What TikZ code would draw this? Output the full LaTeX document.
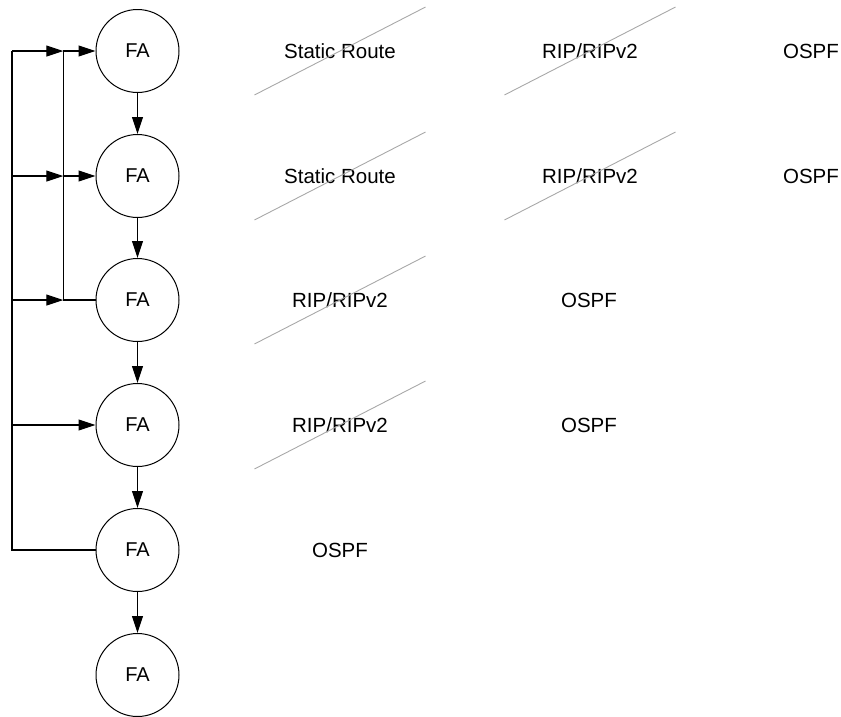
\documentclass[tikz,border=0pt]{standalone}
\usepackage{fontspec}
\setmainfont{Liberation Sans}
\usetikzlibrary{arrows.meta,positioning,shapes.misc}
\definecolor{StrikeGray}{HTML}{A8A8A8}

\begin{document}
\begin{tikzpicture}[
    x=1pt, y=-1pt,
    fa/.style={
      circle,
      draw=black,
      line width=1pt,
      minimum size=83pt,
      inner sep=0pt,
      font=\fontsize{20}{24}\selectfont
    },
    proto/.style={
      font=\fontsize{20.5}{24}\selectfont,
      inner sep=0pt
    },
    off/.style={
      proto,
      strike out,
      draw=StrikeGray,
      line width=0.9pt,
      text=black,
      minimum width=170pt,
      minimum height=87pt
    },
    link/.style={line width=1.1pt},
    arr/.style={link,-{Triangle[length=17pt,width=11pt]}}
  ]
  \useasboundingbox (0,0) rectangle (841,716);

  % Automata chain
  \node[fa] (fa1) at (137.5,51)  {FA};
  \node[fa] (fa2) at (137.5,176) {FA};
  \node[fa] (fa3) at (137.5,300) {FA};
  \node[fa] (fa4) at (137.5,425) {FA};
  \node[fa] (fa5) at (137.5,550) {FA};
  \node[fa] (fa6) at (137.5,675) {FA};

  \draw[arr] (fa1) -- (fa2);
  \draw[arr] (fa2) -- (fa3);
  \draw[arr] (fa3) -- (fa4);
  \draw[arr] (fa4) -- (fa5);
  \draw[arr] (fa5) -- (fa6);

  % Feedback buses
  \coordinate (out1) at (12,51);
  \coordinate (out2) at (12,176);
  \coordinate (out3) at (12,300);
  \coordinate (out4) at (12,425);
  \coordinate (out5) at (12,550);
  \coordinate (in1)  at (63.3,51);
  \coordinate (in2)  at (63.3,176);
  \coordinate (in3)  at (63.3,300);

  \draw[link] (fa5.west) -- (out5) -- (out1);
  \draw[arr] (out1) -- (in1);
  \draw[arr] (out2) -- (in2);
  \draw[arr] (out3) -- (in3);
  \draw[arr] (out4) -- (fa4.west);

  \draw[link] (fa3.west) -- (in3) -- (in1);
  \draw[arr] (in1) -- (fa1.west);
  \draw[arr] (in2) -- (fa2.west);

  % Protocols
  \node[off]   (sr1)   at (340,51)  {Static Route};
  \node[off]   (rip1)  at (590,51)  {RIP/RIPv2};
  \node[proto] (ospf1) at (811,51)  {OSPF};

  \node[off]   (sr2)   at (340,176) {Static Route};
  \node[off]   (rip2)  at (590,176) {RIP/RIPv2};
  \node[proto] (ospf2) at (811,176) {OSPF};

  \node[off]   (rip3)  at (340,300) {RIP/RIPv2};
  \node[proto] (ospf3) at (589,300) {OSPF};

  \node[off]   (rip4)  at (340,425) {RIP/RIPv2};
  \node[proto] (ospf4) at (589,425) {OSPF};

  \node[proto] (ospf5) at (340,550) {OSPF};

\end{tikzpicture}
\end{document}
